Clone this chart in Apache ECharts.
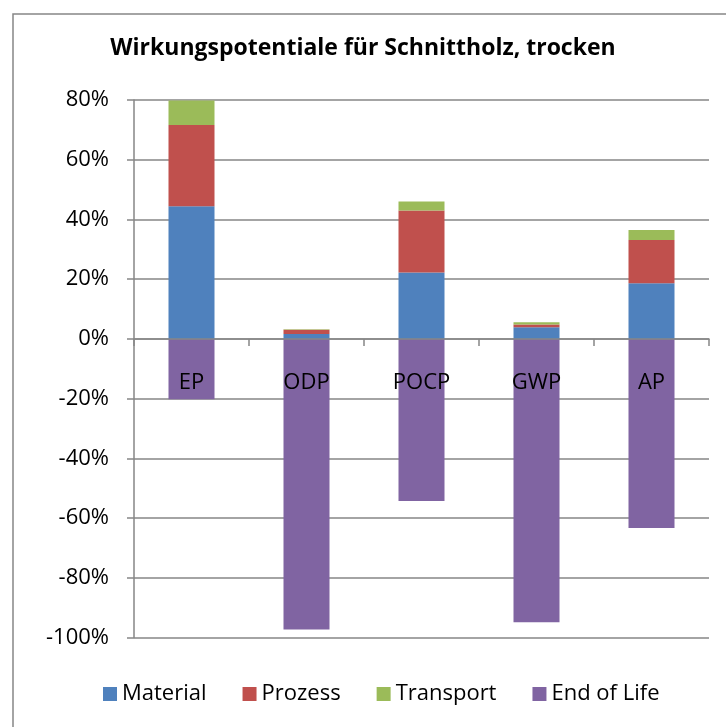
<!DOCTYPE html>
<html>
<head>
<meta charset="utf-8">
<script src="https://cdn.jsdelivr.net/npm/echarts@6/dist/echarts.min.js"></script>
<style>
  html, body { margin: 0; padding: 0; background: #fff; }
  #main { width: 726px; height: 727px; }
</style>
</head>
<body>
<div id="main"></div>
<script>
// Kategorien und Werte (in %)
const categories = ['EP', 'ODP', 'POCP', 'GWP', 'AP']
const material = [44.4, 1.6, 22.2, 3.9, 18.6]
const prozess = [27.2, 1.5, 20.8, 0.9, 14.5]
const transport = [8.2, 0.1, 3.0, 0.8, 3.4]
const endOfLife = [-20.2, -97.3, -54.3, -94.9, -63.3]

const font = 'Open Sans'
const gray = '#868686'

const chart = echarts.init(document.getElementById('main'))

const mkSeries = (name, data, color) => ({
  name,
  type: 'bar',
  stack: 'all',
  data,
  barWidth: '40%',
  itemStyle: { color }
})

const option = {
  animation: false,
  title: {
    text: 'Wirkungspotentiale für Schnittholz, trocken',
    left: 'center',
    top: 32,
    textStyle: { fontFamily: font, fontSize: 23, fontWeight: 'bold', color: '#000' }
  },
  graphic: [{
    type: 'rect',
    shape: { x: 13, y: 14, width: 740, height: 740 },
    style: { fill: 'none', stroke: gray, lineWidth: 1.5 },
    silent: true
  }],
  legend: {
    left: 98,
    top: 678,
    itemWidth: 14,
    itemHeight: 14,
    itemGap: 36,
    icon: 'rect',
    textStyle: { fontFamily: font, fontSize: 22, color: '#000' }
  },
  grid: {
    left: 134,
    right: 17,
    top: 100,
    bottom: 89.5
  },
  xAxis: {
    type: 'category',
    data: categories,
    axisLine: { onZero: true, lineStyle: { color: gray, width: 1.5 } },
    axisTick: { show: true, length: 7, lineStyle: { color: gray, width: 1.5 } },
    // Beschriftung direkt unter der Nulllinie
    axisLabel: { margin: -266, fontFamily: font, fontSize: 22, color: '#000' },
    z: 10
  },
  yAxis: {
    type: 'value',
    min: -100,
    max: 80,
    interval: 20,
    axisLine: { show: true, lineStyle: { color: gray, width: 1.5 } },
    axisTick: { show: true, length: 7, lineStyle: { color: gray, width: 1.5 } },
    axisLabel: { formatter: '{value}%', margin: 25, fontFamily: font, fontSize: 22, color: '#000' },
    splitLine: { lineStyle: { color: gray, width: 1.5 } }
  },
  series: [
    mkSeries('Material', material, '#4F81BD'),
    mkSeries('Prozess', prozess, '#C0504D'),
    mkSeries('Transport', transport, '#9BBB59'),
    mkSeries('End of Life', endOfLife, '#8064A2')
  ]
}

chart.setOption(option)
</script>
</body>
</html>
